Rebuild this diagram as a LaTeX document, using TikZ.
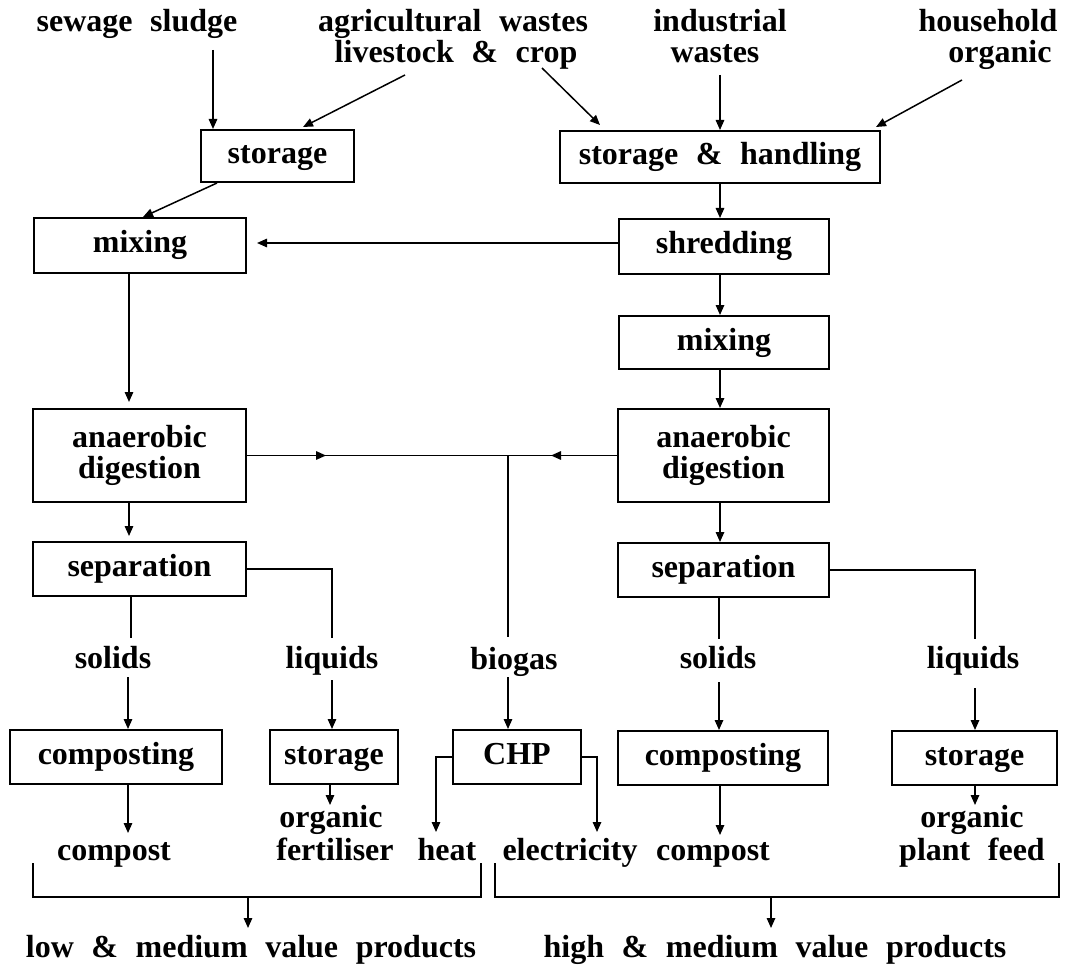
\documentclass[tikz,border=0pt]{standalone}
\usepackage{fontspec}
\setmainfont{Liberation Serif}[WordSpace=2.2]
\usetikzlibrary{arrows.meta,decorations.markings}
\tikzset{
  box/.style={draw, line width=2pt, inner sep=0pt, align=center, minimum height=54pt},
  onebox/.style={box, text height=22pt, text depth=7pt},
  lbl/.style={inner sep=0pt, anchor=base},
  midarrow/.style={postaction={decorate}, decoration={markings, mark=at position #1 with {\arrow{Triangle[length=10pt,width=8.5pt]}}}}
}
\begin{document}
\begin{tikzpicture}[x=1pt, y=-1pt, line width=1.5pt,
  font=\fontsize{32}{31}\selectfont\bfseries,
  >={Triangle[length=10pt,width=8.5pt]}]
\useasboundingbox (0,0) rectangle (1065,968);

% ---------- top labels ----------
\node[lbl] (sewage) at (137,32) {sewage sludge};
\node[lbl] (agri1) at (453,32) {agricultural wastes};
\node[lbl] (agri2) at (456,63) {livestock \& crop};
\node[lbl] (ind1) at (720,32) {industrial};
\node[lbl] (ind2) at (715,63) {wastes};
\node[lbl] (hh1) at (988,32) {household};
\node[lbl] (hh2) at (1000,63) {organic};

% ---------- boxes ----------
\node[onebox, minimum width=153pt, minimum height=52pt] (storeL) at (277.5,156) {storage};
\node[onebox, minimum width=212pt, minimum height=55pt] (mixL) at (140,245.5) {mixing};
\node[onebox, minimum width=320pt, minimum height=52pt] (SH) at (720,157) {storage \& handling};
\node[onebox, minimum width=210pt, minimum height=55pt] (shred) at (724,246.5) {shredding};
\node[onebox, minimum width=210pt, minimum height=53pt] (mixR) at (724,342.5) {mixing};
\node[box, minimum width=213pt, minimum height=93pt] (ADL) at (139.5,455.5) {anaerobic\\digestion};
\node[box, minimum width=211pt, minimum height=93pt] (ADR) at (723.5,455.5) {anaerobic\\digestion};
\node[onebox, minimum width=213pt, minimum height=54pt] (sepL) at (139.5,569) {separation};
\node[onebox, minimum width=211pt, minimum height=54pt] (sepR) at (723.5,570) {separation};
\node[onebox, minimum width=212pt, minimum height=54pt] (compL) at (116,757) {composting};
\node[onebox, minimum width=128pt, minimum height=54pt] (storL2) at (334,757) {storage};
\node[onebox, minimum width=128pt, minimum height=54pt] (CHP) at (517,757) {CHP};
\node[onebox, minimum width=210pt, minimum height=54pt] (compR) at (723,758) {composting};
\node[onebox, minimum width=165pt, minimum height=54pt] (storR2) at (974.5,758) {storage};

% ---------- intermediate labels ----------
\node[lbl] (solL) at (113,668) {solids};
\node[lbl] (liqL) at (332,668) {liquids};
\node[lbl] (biogas) at (514,669) {biogas};
\node[lbl] (solR) at (718,668) {solids};
\node[lbl] (liqR) at (973,668) {liquids};

% ---------- product labels ----------
\node[lbl] (compostL) at (114,860) {compost};
\node[lbl] (orgL1) at (331,827) {organic};
\node[lbl] (orgL2) at (335,860) {fertiliser};
\node[lbl] (heat) at (447,860) {heat};
\node[lbl] (elec) at (570,860) {electricity};
\node[lbl] (compostR) at (713,860) {compost};
\node[lbl] (orgR1) at (972,827) {organic};
\node[lbl] (orgR2) at (972,860) {plant feed};
\node[lbl] (low) at (251,957) {low \& medium value products};
\node[lbl] (high) at (775,957) {high \& medium value products};

% ---------- coordinates (free ends near labels) ----------
\coordinate (sewOut) at (213,50);
\coordinate (agriOutL) at (405,75);
\coordinate (agriOutR) at (542,68);
\coordinate (indOut) at (720,75);
\coordinate (hhOut) at (962,80);
\coordinate (J) at (508,455.5);
\coordinate (bgTop) at (508,637);
\coordinate (bgBot) at (508,677);
\coordinate (solLTop) at (131,638);
\coordinate (solLBot) at (128,677);
\coordinate (liqLTop) at (332,638);
\coordinate (liqLBot) at (332,680);
\coordinate (solRTop) at (719,639);
\coordinate (solRBot) at (719,682);
\coordinate (liqRTop) at (975,639);
\coordinate (liqRBot) at (975,688);
\coordinate (compLIn) at (128,833);
\coordinate (orgLIn) at (330,805);
\coordinate (heatIn) at (436,832);
\coordinate (elecIn) at (597,832);
\coordinate (compRIn) at (720,835);
\coordinate (orgRIn) at (975,805);
\coordinate (brLa) at (33,863);
\coordinate (brLb) at (481,863);
\coordinate (brLm) at (248,897);
\coordinate (lowIn) at (248,928);
\coordinate (brRa) at (495,863);
\coordinate (brRb) at (1059,863);
\coordinate (brRm) at (771,897);
\coordinate (highIn) at (771,928);

% ---------- inputs ----------
\draw[->] (sewOut) -- (sewOut |- storeL.north);
\draw[->] (agriOutL) -- ([xshift=25.5pt,yshift=2pt]storeL.north);
\draw[->] (agriOutR) -- ([xshift=-120pt,yshift=5pt]SH.north);
\draw[->] (indOut) -- (indOut |- SH.north);
\draw[->] (hhOut) -- ([xshift=156pt,yshift=3pt]SH.north);

% ---------- left line ----------
\draw[->] ([xshift=-60.5pt]storeL.south) -- ([xshift=3pt]mixL.north);
\draw[->, shorten >=10pt] (shred.west |- 0,243) -- (mixL.east |- 0,243);
\draw[->, shorten >=6pt] ([xshift=-11pt]mixL.south) -- ([xshift=-10.5pt]ADL.north);
\draw[->, shorten >=5pt] ([xshift=-10.5pt]ADL.south) -- ([xshift=-10.5pt]sepL.north);

% ---------- right line ----------
\draw[->] (SH.south) -- (SH.south |- shred.north);
\draw[->] ([xshift=-4pt]shred.south) -- ([xshift=-4pt]mixR.north);
\draw[->] ([xshift=-4pt]mixR.south) -- ([xshift=-3.5pt]ADR.north);
\draw[->] ([xshift=-3.5pt]ADR.south) -- ([xshift=-3.5pt]sepR.north);

% ---------- biogas ----------
\draw[midarrow=79pt] (ADL.east) -- (J);
\draw[midarrow=66pt] (ADR.west) -- (J);
\draw (J) -- (bgTop);
\draw[->] (bgBot) -- (bgBot |- CHP.north);
\draw[->] (CHP.west) -| (heatIn);
\draw[->] (CHP.east) -| (elecIn);

% ---------- separation outputs ----------
\draw (solLTop |- sepL.south) -- (solLTop);
\draw[->] (solLBot) -- (solLBot |- compL.north);
\draw (sepL.east) -| (liqLTop);
\draw[->] (liqLBot) -- (liqLBot |- storL2.north);
\draw (solRTop |- sepR.south) -- (solRTop);
\draw[->] (solRBot) -- (solRBot |- compR.north);
\draw (sepR.east) -| (liqRTop);
\draw[->] (liqRBot) -- (liqRBot |- storR2.north);

% ---------- products ----------
\draw[->] (compLIn |- compL.south) -- (compLIn);
\draw[->] (orgLIn |- storL2.south) -- (orgLIn);
\draw[->] (compRIn |- compR.south) -- (compRIn);
\draw[->] (orgRIn |- storR2.south) -- (orgRIn);

% ---------- brackets ----------
\draw (brLa) |- (brLm) -| (brLb);
\draw[->] (brLm) -- (lowIn);
\draw (brRa) |- (brRm) -| (brRb);
\draw[->] (brRm) -- (highIn);
\end{tikzpicture}
\end{document}
